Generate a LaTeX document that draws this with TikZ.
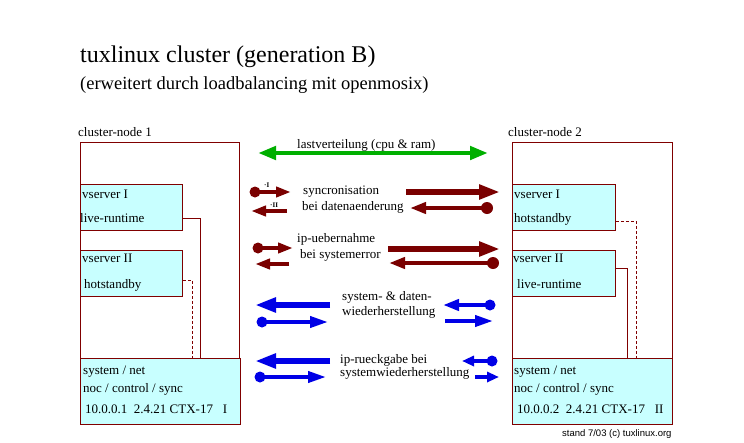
\documentclass[tikz,border=0pt]{standalone}
\usepackage{fontspec}
\setmainfont{Liberation Serif}
\newfontfamily\creditfont{Liberation Sans}
\usetikzlibrary{arrows.meta}
\definecolor{maroon}{RGB}{128,0,0}
\definecolor{darrow}{RGB}{122,0,0}
\definecolor{boxcyan}{RGB}{200,255,255}
\definecolor{garrow}{RGB}{0,175,0}
\definecolor{barrow}{RGB}{0,0,230}
\tikzset{
  txt/.style={anchor=base west, inner sep=0pt, font=\fontsize{13}{15}\selectfont},
  tinytxt/.style={anchor=base west, inner sep=0pt, font=\bfseries\fontsize{7}{7}\selectfont},
  frame/.style={draw=maroon, line width=0.8pt, anchor=north west, inner sep=0pt},
  box/.style={draw=maroon, line width=0.8pt, fill=boxcyan, anchor=north west, inner sep=0pt},
  link/.style={draw=maroon, line width=0.8pt},
  dashlink/.style={draw=maroon, line width=0.8pt, dash pattern=on 3pt off 2pt},
  bigarrow/.style={line width=5.5pt, -{Triangle[length=21pt,width=14pt]}},
  midarrow/.style={line width=4.5pt, -{Triangle[length=16pt,width=11pt]}},
  thinarrow/.style={line width=3.8pt, -{Triangle[length=18pt,width=11pt]}},
  smallarrow/.style={line width=4pt, -{Triangle[length=15pt,width=10pt]}},
  tinyarrow/.style={line width=4pt, -{Triangle[length=12pt,width=10pt]}},
  dot/.style={circle, fill, inner sep=0pt, minimum size=11pt},
  bigdot/.style={circle, fill, inner sep=0pt, minimum size=12pt},
}
\begin{document}
\begin{tikzpicture}[x=1pt,y=-1pt]
\useasboundingbox[fill=white] (0,0) rectangle (744,442);

% titles
\node[txt, font=\fontsize{24}{28}\selectfont] (title) at (80,62) {tuxlinux cluster (generation B)};
\node[txt, font=\fontsize{18.5}{22}\selectfont] (subtitle) at (80,89) {(erweitert durch loadbalancing mit openmosix)};

% ---------- cluster node 1
\node[txt] (cn1) at (78,136) {cluster-node 1};
\node[frame, minimum width=159pt, minimum height=216pt] (outer1) at (80,142) {};
\node[box, minimum width=102pt, minimum height=46pt] (vs1a) at (80,184) {};
\node[box, minimum width=102pt, minimum height=46pt] (vs1b) at (80,250) {};
\node[box, minimum width=160pt, minimum height=66pt] (sys1) at (80,358) {};
\node[txt] (vs1at) at (82,198) {vserver I};
\node[txt] (vs1ar) at (80,222) {live-runtime};
\node[txt] (vs1bt) at (82,262) {vserver II};
\node[txt] (vs1br) at (84,288) {hotstandby};
\node[txt] (sys1a) at (83,374) {system / net};
\node[txt] (sys1b) at (83,392) {noc / control / sync};
\node[txt] (sys1c) at (85,413) {10.0.0.1\ \ 2.4.21 CTX-17\ \ \ I};
\coordinate (c1) at (200,218);
\coordinate (c2) at (192,280);
\draw[link] (vs1a.east |- c1) -| (sys1.north -| c1);
\draw[dashlink] (vs1b.east |- c2) -| (sys1.north -| c2);

% ---------- cluster node 2
\node[txt] (cn2) at (508,136) {cluster-node 2};
\node[frame, minimum width=160pt, minimum height=216pt] (outer2) at (512,142) {};
\node[box, minimum width=103pt, minimum height=46pt] (vs2a) at (512,184) {};
\node[box, minimum width=103pt, minimum height=46pt] (vs2b) at (512,250) {};
\node[box, minimum width=160pt, minimum height=66pt] (sys2) at (512,358) {};
\node[txt] (vs2at) at (514,198) {vserver I};
\node[txt] (vs2ar) at (514,222) {hotstandby};
\node[txt] (vs2bt) at (513,262) {vserver II};
\node[txt] (vs2br) at (517,288) {live-runtime};
\node[txt] (sys2a) at (514,374) {system / net};
\node[txt] (sys2b) at (514,392) {noc / control / sync};
\node[txt] (sys2c) at (517,413) {10.0.0.2\ \ 2.4.21 CTX-17\ \ \ II};
\coordinate (c3) at (636,221);
\coordinate (c4) at (627,268);
\draw[dashlink] (vs2a.east |- c3) -| (sys2.north -| c3);
\draw[link] (vs2b.east |- c4) -| (sys2.north -| c4);

\node[anchor=base west, inner sep=0pt, font=\creditfont\fontsize{9.5}{11}\selectfont] (credit) at (562,436) {stand 7/03 (c) tuxlinux.org};

% ---------- load balancing
\node[txt] (lbl) at (297,148) {lastverteilung (cpu \& ram)};
\coordinate (g1) at (258,153);
\coordinate (g2) at (488,153);
\draw[garrow, line width=4.5pt, {Triangle[length=18pt,width=13pt]}-{Triangle[length=18pt,width=13pt]}] (g1) -- (g2);

% ---------- syncronisation
\node[txt] (sy1) at (303,194) {syncronisation};
\node[txt] (sy2) at (302,210) {bei datenaenderung};
\node[tinytxt] (li) at (264,187) {·I};
\node[tinytxt] (lii) at (270,207) {·II};
\node[dot, darrow] (d1) at (255,192) {};
\coordinate (e1) at (291,192);
\draw[smallarrow, darrow] (d1.center) -- (e1);
\coordinate (s2) at (287,211);
\coordinate (e2) at (251,211);
\draw[smallarrow, darrow] (s2) -- (e2);
\coordinate (s3) at (406,192);
\coordinate (e3) at (500,192);
\draw[bigarrow, darrow] (s3) -- (e3);
\node[bigdot, darrow] (d2) at (487,208) {};
\coordinate (e4) at (410,208);
\draw[midarrow, darrow] (d2.center) -- (e4);

% ---------- ip-uebernahme
\node[txt] (ip1) at (297,242) {ip-uebernahme};
\node[txt] (ip2) at (300,258) {bei systemerror};
\node[dot, darrow] (d3) at (258,248) {};
\coordinate (e5) at (293,248);
\draw[smallarrow, darrow] (d3.center) -- (e5);
\coordinate (s6) at (289,264);
\coordinate (e6) at (255,264);
\draw[smallarrow, darrow] (s6) -- (e6);
\coordinate (s7) at (388,249);
\coordinate (e7) at (500,249);
\draw[bigarrow, darrow] (s7) -- (e7);
\node[bigdot, darrow] (d4) at (493,263) {};
\coordinate (e8) at (389,263);
\draw[midarrow, darrow] (d4.center) -- (e8);

% ---------- system- & daten-wiederherstellung
\node[txt] (wd1) at (342,300) {system- \& daten-};
\node[txt] (wd2) at (342,315) {wiederherstellung};
\coordinate (s9) at (330,305);
\coordinate (e9) at (255,305);
\draw[bigarrow, barrow] (s9) -- (e9);
\node[dot, barrow] (d5) at (262,322) {};
\coordinate (e10) at (328,322);
\draw[thinarrow, barrow] (d5.center) -- (e10);
\node[dot, barrow] (d6) at (490,305) {};
\coordinate (e11) at (443,305);
\draw[midarrow, barrow] (d6.center) -- (e11);
\coordinate (s12) at (445,321);
\coordinate (e12) at (493,321);
\draw[thinarrow, barrow] (s12) -- (e12);

% ---------- ip-rueckgabe
\node[txt] (rg1) at (340,363) {ip-rueckgabe bei};
\node[txt] (rg2) at (340,376) {systemwiederherstellung};
\coordinate (s13) at (330,361);
\coordinate (e13) at (255,361);
\draw[bigarrow, barrow] (s13) -- (e13);
\node[dot, barrow] (d7) at (260,377) {};
\coordinate (e14) at (326,377);
\draw[thinarrow, barrow] (d7.center) -- (e14);
\node[dot, barrow] (d8) at (492,361) {};
\coordinate (e15) at (462,361);
\draw[tinyarrow, barrow] (d8.center) -- (e15);
\coordinate (s16) at (475,377);
\coordinate (e16) at (499,377);
\draw[tinyarrow, barrow] (s16) -- (e16);
\end{tikzpicture}
\end{document}
